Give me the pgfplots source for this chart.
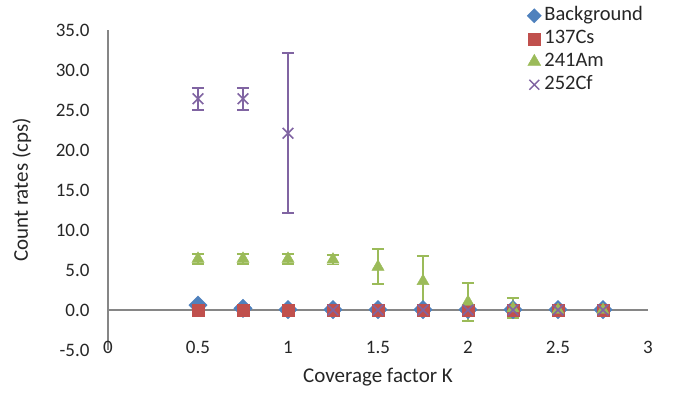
\documentclass[border=0pt]{standalone}
\usepackage{fontspec}
\setmainfont{Carlito}
\usepackage{pgfplots}
\pgfplotsset{compat=1.18}

\definecolor{bgblue}{HTML}{4F81BD}
\definecolor{csred}{HTML}{C0504D}
\definecolor{amgreen}{HTML}{9BBB59}
\definecolor{cfpurple}{HTML}{8064A2}
\definecolor{axisgray}{HTML}{868686}

\begin{document}
\begin{tikzpicture}
\useasboundingbox (0pt,0pt) rectangle (673pt,394pt);
\begin{axis}[
  at={(108pt,44pt)}, anchor=south west,
  scale only axis, width=540pt, height=320pt,
  xmin=0, xmax=3, ymin=-5, ymax=35,
  xtick={0,0.5,...,3}, ytick={-5,0,...,35},
  xticklabels={0,0.5,1,1.5,2,2.5,3},
  axis y line*=left, axis x line*=bottom,
  x axis line style={draw=none},
  y axis line style={draw=axisgray, line width=1.3pt},
  major tick length=0pt,
  /pgf/number format/assume math mode=true,
  yticklabel style={/pgf/number format/fixed, /pgf/number format/fixed zerofill,
    /pgf/number format/precision=1},
  tick label style={font=\fontsize{19}{22}\selectfont, text=black!85},
  xticklabel style={anchor=center, yshift=3pt},
  yticklabel style={xshift=-15pt},
  xlabel={Coverage factor K}, ylabel={Count rates (cps)},
  label style={font=\fontsize{21}{25}\selectfont, text=black!85},
  xlabel style={at={(rel axis cs:0.5,0)}, anchor=base, yshift=-33pt},
  ylabel style={at={(rel axis cs:0,0.5)}, anchor=center, yshift=86pt},
  clip=false,
  legend style={draw=none, fill=none, at={(rel axis cs:0.776,1.081)}, anchor=north west,
    font=\fontsize{20.5}{24}\selectfont, row sep=0pt, column sep=2pt, inner sep=0pt,
    nodes={inner sep=1pt, text height=15pt, text depth=6pt, text=black!85}},
  legend cell align=left,
  legend image code/.code={\draw[#1] plot coordinates {(6pt,0pt)};},
  error bars/y dir=both, error bars/y explicit,
  error bars/error mark options={rotate=90, mark size=6pt, line width=1.8pt},
]
\draw[axisgray, line width=1.3pt] (axis cs:0,0) -- (axis cs:3,0);

\addplot[only marks, mark=square*, mark options={rotate=45}, mark size=6.5pt, color=bgblue, forget plot]
  coordinates {(0.5,0.6) +- (0,0) (0.75,0.2) +- (0,0) (1,0.05) +- (0,0) (1.25,0.05) +- (0,0)
   (1.5,0.05) +- (0,0) (1.75,0.05) +- (0,0) (2,0.05) +- (0,0) (2.25,0.05) +- (0,0)
   (2.5,0.05) +- (0,0) (2.75,0.05) +- (0,0)};
\addlegendimage{only marks, mark=square*, mark options={rotate=45}, mark size=5pt, color=bgblue}
\addlegendentry{Background}

\addplot[only marks, mark=square*, mark size=6pt, color=csred, forget plot]
  coordinates {(0.5,0) +- (0,0) (0.75,0) +- (0,0) (1,0) +- (0,0) (1.25,0) +- (0,0)
   (1.5,0) +- (0,0) (1.75,0) +- (0,0) (2,0) +- (0,0) (2.25,0) +- (0,0)
   (2.5,0) +- (0,0) (2.75,0) +- (0,0)};
\addlegendimage{only marks, mark=square*, mark size=6pt, color=csred}
\addlegendentry{137Cs}

\addplot[only marks, mark=triangle*, mark size=7pt, color=amgreen, forget plot,
  error bars/error bar style={amgreen, line width=1.8pt}]
  coordinates {(0.5,6.4) +- (0,0.6) (0.75,6.4) +- (0,0.6) (1,6.4) +- (0,0.6) (1.25,6.3) +- (0,0.6)
   (1.5,5.4) +- (0,2.2) (1.75,3.6) +- (0,3.2) (2,1.0) +- (0,2.4) (2.25,0.2) +- (0,1.25)
   (2.5,0) +- (0,0) (2.75,0) +- (0,0)};
\addlegendimage{only marks, mark=triangle*, mark size=7.5pt, color=amgreen}
\addlegendentry{241Am}

\addplot[only marks, mark=x, mark size=7.5pt, line width=1.5pt, color=cfpurple, forget plot,
  error bars/error bar style={cfpurple, line width=1.8pt}]
  coordinates {(0.5,26.4) +- (0,1.4) (0.75,26.4) +- (0,1.4) (1,22.1) +- (0,10.0) (1.25,0) +- (0,0)
   (1.5,0) +- (0,0) (1.75,0) +- (0,0) (2,0) +- (0,0) (2.25,0) +- (0,0)
   (2.5,0) +- (0,0) (2.75,0) +- (0,0)};
\addlegendimage{only marks, mark=x, mark size=7pt, line width=1.4pt, color=cfpurple}
\addlegendentry{252Cf}
\end{axis}
\end{tikzpicture}
\end{document}
